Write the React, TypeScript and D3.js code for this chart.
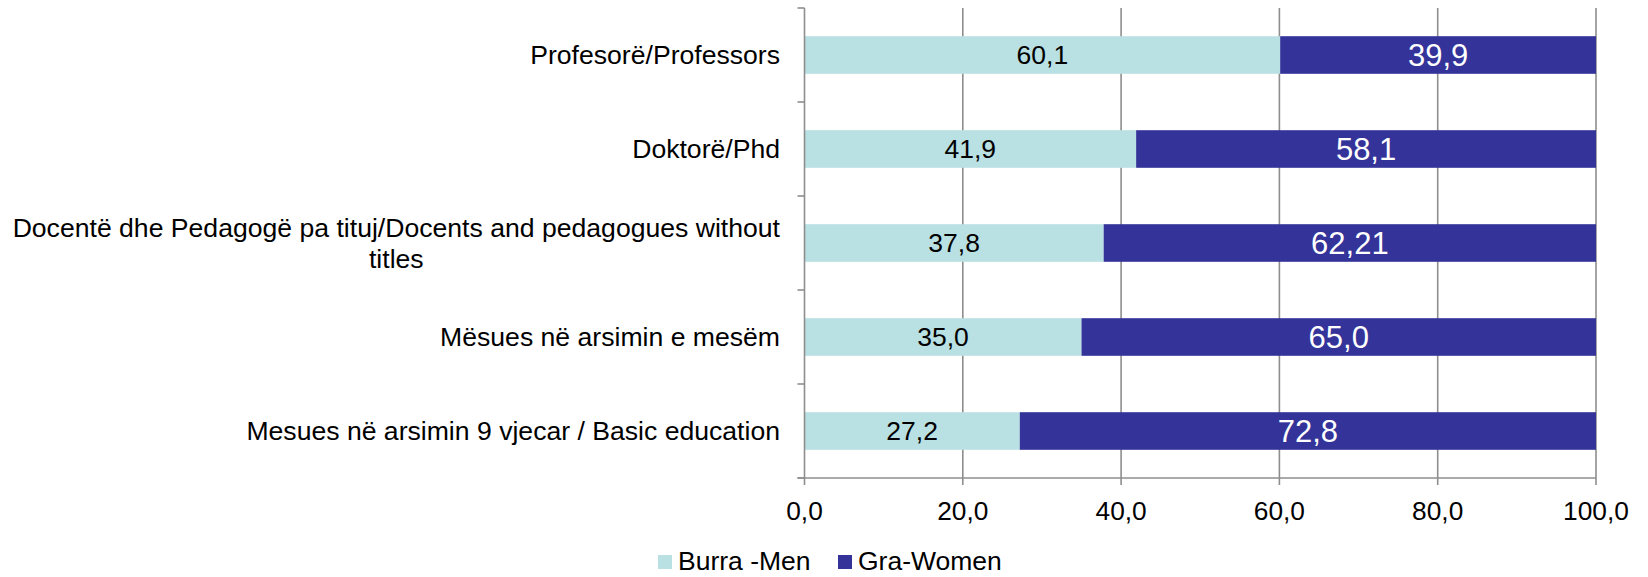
import React, { useEffect, useRef } from "react";
import * as d3 from "d3";

const categories = [
  ["Profesorë/Professors"],
  ["Doktorë/Phd"],
  ["Docentë dhe Pedagogë pa tituj/Docents and pedagogues without", "titles"],
  ["Mësues në arsimin e mesëm"],
  ["Mesues në arsimin 9 vjecar / Basic education"],
];
const men = [60.1, 41.9, 37.8, 35.0, 27.2];
const women = [39.9, 58.1, 62.21, 65.0, 72.8];
const menLabels = ["60,1", "41,9", "37,8", "35,0", "27,2"];
const womenLabels = ["39,9", "58,1", "62,21", "65,0", "72,8"];
const xTicks = [0, 20, 40, 60, 80, 100];
const seriesNames = ["Burra -Men", "Gra-Women"];

const W = 1648;
const H = 577;
const FONT = "'Liberation Sans', Arial, sans-serif";
const COLORS = ["#b9e0e2", "#333399"];
const GRID = "#8e8e8e";

export default function App() {
  const ref = useRef<SVGSVGElement | null>(null);

  useEffect(() => {
    const svg = d3.select(ref.current);
    svg.selectAll("*").remove();

    const left = 804.5, right = 1596, top = 8, bottom = 478;
    const x = d3.scaleLinear().domain([0, 100]).range([left, right]);
    const idx = categories.map((_, i) => i);
    const y = d3.scaleBand<number>().domain(idx).range([top, bottom]).paddingInner(0.6).paddingOuter(0.3);
    const band = (bottom - top) / categories.length;

    // gridlines
    svg.append("g").selectAll("line").data(xTicks.slice(1)).join("line")
      .attr("x1", (d) => x(d)).attr("x2", (d) => x(d))
      .attr("y1", top).attr("y2", bottom)
      .attr("stroke", GRID).attr("stroke-width", 1.6);

    // bars
    const g = svg.append("g");
    g.selectAll("rect.men").data(idx).join("rect")
      .attr("x", x(0)).attr("y", (i) => y(i)!)
      .attr("width", (i) => x(men[i]) - x(0)).attr("height", y.bandwidth())
      .attr("fill", COLORS[0]);
    g.selectAll("rect.women").data(idx).join("rect")
      .attr("x", (i) => x(men[i])).attr("y", (i) => y(i)!)
      .attr("width", (i) => Math.min(x(100), x(men[i] + women[i])) - x(men[i]))
      .attr("height", y.bandwidth())
      .attr("fill", COLORS[1]);

    // y axis line + ticks
    svg.append("line").attr("x1", left).attr("x2", left).attr("y1", top).attr("y2", bottom)
      .attr("stroke", GRID).attr("stroke-width", 1.6);
    svg.append("g").selectAll("line").data(d3.range(categories.length + 1)).join("line")
      .attr("x1", left - 7).attr("x2", left)
      .attr("y1", (k) => top + k * band).attr("y2", (k) => top + k * band)
      .attr("stroke", GRID).attr("stroke-width", 1.6);

    // x axis line + ticks
    svg.append("line").attr("x1", left - 7).attr("x2", right).attr("y1", bottom).attr("y2", bottom)
      .attr("stroke", GRID).attr("stroke-width", 1.6);
    svg.append("g").selectAll("line").data(xTicks).join("line")
      .attr("x1", (d) => x(d)).attr("x2", (d) => x(d))
      .attr("y1", bottom).attr("y2", bottom + 7)
      .attr("stroke", GRID).attr("stroke-width", 1.6);
    svg.append("g").selectAll("text").data(xTicks).join("text")
      .attr("x", (d) => x(d)).attr("y", 520)
      .attr("text-anchor", "middle")
      .attr("font-family", FONT).attr("font-size", 26.3).attr("fill", "#000")
      .text((d) => d3.format(".1f")(d).replace(".", ","));

    // category labels
    const labelRight = 780;
    idx.forEach((i) => {
      const lines = categories[i];
      const cy = top + band * (i + 0.5);
      const lh = 31;
      const t0 = svg.append("text")
        .attr("font-family", FONT).attr("font-size", 26.6).attr("fill", "#000")
        .attr("text-anchor", "end")
        .attr("x", labelRight)
        .attr("y", cy - ((lines.length - 1) * lh) / 2)
        .attr("dy", "0.35em")
        .text(lines[0]);
      if (lines.length > 1) {
        const w0 = (t0.node() as SVGTextElement).getComputedTextLength();
        const cx = labelRight - w0 / 2;
        for (let k = 1; k < lines.length; k++) {
          svg.append("text")
            .attr("font-family", FONT).attr("font-size", 26.6).attr("fill", "#000")
            .attr("text-anchor", "middle")
            .attr("x", cx)
            .attr("y", cy - ((lines.length - 1) * lh) / 2 + k * lh)
            .attr("dy", "0.35em")
            .text(lines[k]);
        }
      }
    });

    // data labels
    svg.append("g").selectAll("text").data(idx).join("text")
      .attr("x", (i) => x(men[i] / 2)).attr("y", (i) => y(i)! + y.bandwidth() / 2)
      .attr("dy", "0.35em").attr("text-anchor", "middle")
      .attr("font-family", FONT).attr("font-size", 26.5).attr("fill", "#000")
      .text((i) => menLabels[i]);
    svg.append("g").selectAll("text").data(idx).join("text")
      .attr("x", (i) => x(men[i] + Math.min(women[i], 100 - men[i]) / 2)).attr("y", (i) => y(i)! + y.bandwidth() / 2)
      .attr("dy", "0.35em").attr("text-anchor", "middle")
      .attr("font-family", FONT).attr("font-size", 31).attr("fill", "#fff")
      .text((i) => womenLabels[i]);

    // legend
    const legend = svg.append("g");
    const lx = [658, 838];
    seriesNames.forEach((name, k) => {
      legend.append("rect").attr("x", lx[k]).attr("y", 555).attr("width", 14).attr("height", 14)
        .attr("fill", COLORS[k]);
      legend.append("text").attr("x", lx[k] + 20).attr("y", 570)
        .attr("font-family", FONT).attr("font-size", 26.5).attr("fill", "#000")
        .text(name);
    });
  }, []);

  return (
    <svg
      ref={ref}
      width={W}
      height={H}
      style={{ position: "absolute", left: 0, top: 0, background: "#fff" }}
    />
  );
}
